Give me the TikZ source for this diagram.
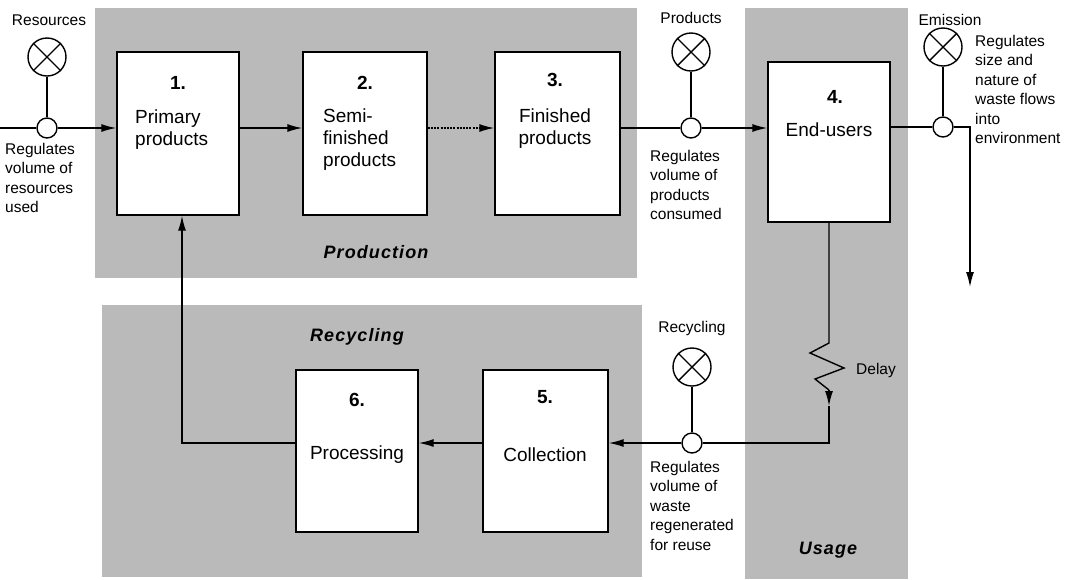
\documentclass[tikz,border=0pt]{standalone}
\usepackage{fontspec}
\setmainfont{Liberation Sans}
\usetikzlibrary{arrows.meta}
\begin{document}
\begin{tikzpicture}[x=1pt,y=-1pt,
  region/.style={fill=black!27, draw=none},
  box/.style={draw, line width=1.4pt, fill=white, rectangle, inner sep=0pt},
  ln/.style={line width=1.4pt},
  arr/.style={ln, -{Latex[length=15pt,width=8pt]}},
  dotarr/.style={arr, dash pattern=on 2pt off 1.2pt},
  valve/.style={draw, line width=1.4pt, fill=white, circle, minimum size=20pt, inner sep=0pt},
  xvalve/.style={draw, line width=1.4pt, fill=white, circle, minimum size=38pt, inner sep=0pt},
  lab/.style={font=\fontsize{15.5}{19.5}\selectfont, align=left, inner sep=0pt},
  btxt/.style={font=\fontsize{19}{22}\selectfont, inner sep=0pt},
  bnum/.style={font=\fontsize{19}{22}\selectfont\bfseries, inner sep=0pt},
  reg/.style={font=\fontsize{18}{20}\selectfont\bfseries\itshape\addfontfeature{LetterSpace=6}, inner sep=0pt}
]
\useasboundingbox (0,0) rectangle (1081,579);

% shaded regions
\fill[region] (95,8) rectangle (637,278);
\fill[region] (102,305) rectangle (642,577);
\fill[region] (745,8) rectangle (908,579);

\node[reg] (tprod) at (376,252) {Production};
\node[reg] (trec) at (357,337) {Recycling};
\node[reg] (tuse) at (828,550) {Usage};

% boxes
\node[box, minimum width=122pt, minimum height=163pt] (b1) at (178,133.5) {};
\node[box, minimum width=124pt, minimum height=163pt] (b2) at (365,133.5) {};
\node[box, minimum width=125pt, minimum height=163pt] (b3) at (557.5,133.5) {};
\node[box, minimum width=122pt, minimum height=160pt] (b4) at (829,142) {};
\node[box, minimum width=125pt, minimum height=162pt] (b5) at (545.5,451) {};
\node[box, minimum width=122pt, minimum height=162pt] (b6) at (357,451) {};

\node[bnum] (n1) at (178,83) {1.};
\node[btxt, align=left, anchor=west] (l1) at (135,130) {Primary\\products};
\node[bnum] (n2) at (365,83) {2.};
\node[btxt, align=left, anchor=west] (l2) at (323,140) {Semi-\\finished\\products};
\node[bnum] (n3) at (555,80) {3.};
\node[btxt, align=center] (l3) at (555,129) {Finished\\products};
\node[bnum] (n4) at (835,97) {4.};
\node[btxt] (l4) at (829,130) {End-users};
\node[bnum] (n5) at (545,397) {5.};
\node[btxt] (l5) at (545,455) {Collection};
\node[bnum] (n6) at (357,400) {6.};
\node[btxt] (l6) at (357,455) {Processing};

% valves
\node[valve] (v1) at (47,128) {};
\node[xvalve] (x1) at (47,57) {};
\node[valve] (v2) at (691,128) {};
\node[xvalve] (x2) at (691,52) {};
\node[valve] (v3) at (943,127) {};
\node[xvalve] (x3) at (943,47) {};
\node[valve] (v4) at (692,443) {};
\node[xvalve] (x4) at (692,367) {};
\foreach \x in {x1,x2,x3,x4}{
  \draw[ln] (\x.north west) -- (\x.south east) (\x.north east) -- (\x.south west);
}
\draw[ln] (x1.south) -- (v1.north);
\draw[ln] (x2.south) -- (v2.north);
\draw[ln] (x3.south) -- (v3.north);
\draw[ln] (x4.south) -- (v4.north);

\node[lab] (t1) at (49,20) {Resources};
\node[lab] (t2) at (691,18) {Products};
\node[lab] (t3) at (950,20) {Emission};
\node[lab] (t4) at (692,328) {Recycling};
\node[lab, anchor=north west] (r1) at (5,143) {Regulates\\volume of\\resources\\used};
\node[lab, anchor=north west] (r2) at (650,150) {Regulates\\volume of\\products\\consumed};
\node[lab, anchor=north west] (r3) at (975,35) {Regulates\\size and\\nature of\\waste flows\\into\\environment};
\node[lab, anchor=north west] (r4) at (650,461) {Regulates\\volume of\\waste\\regenerated\\for reuse};
\node[lab, anchor=west] (td) at (856,370) {Delay};

% connectors
\coordinate (in) at (0,128);
\draw[ln] (in) -- (v1);
\draw[arr] (v1) -- (v1 -| b1.west);
\draw[arr] (v1 -| b1.east) -- (v1 -| b2.west);
\draw[dotarr] (v1 -| b2.east) -- (v1 -| b3.west);
\draw[ln] (v2 -| b3.east) -- (v2);
\draw[arr] (v2) -- (v2 -| b4.west);
\coordinate (ec) at (970,127);
\coordinate (ee) at (970,287);
\draw[ln] (v3 -| b4.east) -- (v3);
\draw[arr] (v3) -- (ec) -- (ee);

\coordinate (z0) at (829,343);
\coordinate (z1) at (810,353);
\coordinate (z2) at (844,368);
\coordinate (z3) at (815,379);
\coordinate (z4) at (829,390);
\coordinate (zt) at (829,406);
\coordinate (zc) at (829,443);
\draw[ln] (b4.south) -- (z0) -- (z1) -- (z2) -- (z3) -- (z4);
\draw[arr] (z4) -- (zt);
\draw[ln] (zt) -- (zc) -- (v4);
\draw[arr] (v4) -- (v4 -| b5.east);
\draw[arr] (v4 -| b5.west) -- (v4 -| b6.east);
\coordinate (rc) at (182,443);
\draw[arr] (v4 -| b6.west) -- (rc) -- (rc |- b1.south);
\end{tikzpicture}
\end{document}
